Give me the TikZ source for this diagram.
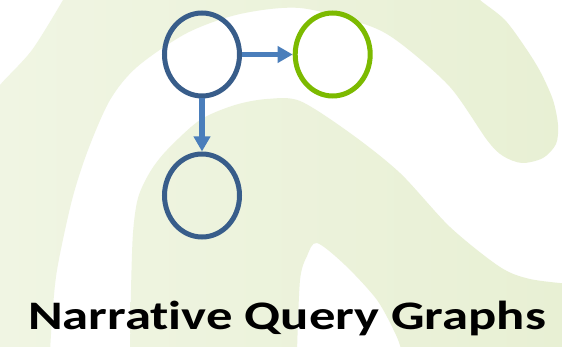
\documentclass[tikz,border=0pt]{standalone}
\usepackage{fontspec}
\setmainfont[Ligatures=NoCommon]{Carlito}
\usetikzlibrary{shapes.geometric,arrows.meta}
\definecolor{nodeblue}{HTML}{385D8A}
\definecolor{arrowblue}{HTML}{4A7EBB}
\definecolor{nodegreen}{HTML}{7CBA00}
\definecolor{bgA}{HTML}{F0F5E3}
\definecolor{bgB}{HTML}{E8F0D4}
\begin{document}
\begin{tikzpicture}[x=1pt,y=-1pt,
  vert/.style={ellipse, draw, line width=5pt, minimum width=75pt, minimum height=83pt, inner sep=0pt},
  conn/.style={draw=arrowblue, line width=5.5pt, -{Triangle[length=15pt,width=16pt]}},
  title/.style={font=\fontsize{40.5}{44}\selectfont\bfseries, inner sep=0pt, anchor=base west, xscale=1.30}]
\clip (0,0) rectangle (562,347);
\fill[white] (0,0) rectangle (562,347);
% background swoosh, band A
\begin{scope}
  \clip (0,352) -- plot[smooth] coordinates {(50,352) (52,320) (57,270) (72,200) (88,150) (110,100) (137,67) (187,33) (240,14) (300,8) (367,25) (400,43) (450,87) (487,140) (503,156) (522,163) (543,158) (556,144) (558,125) (553,100) (541,73) (527,50) (505,20) (480,0) (470,-12)} -- (63,-12) -- plot[smooth] coordinates {(63,0) (32,50) (0,85) (-8,100)} -- (-8,352) -- cycle;
  \shade[left color=bgA, right color=bgB] (0,0) rectangle (562,347);
\end{scope}
% background swoosh, band B
\begin{scope}
  \clip (130,352) -- plot[smooth] coordinates {(130,352) (131,290) (133,233) (138,198) (150,172) (167,150) (200,120) (235,105) (267,99) (300,101) (350,133) (400,173) (450,227) (500,267) (530,279) (570,284)} -- (570,352) -- (402,352) -- plot[smooth] coordinates {(402,352) (396,335) (377,300) (345,265) (317,243) (307,256) (300,280) (297,352)} -- cycle;
  \shade[left color=bgA, right color=bgB] (0,0) rectangle (562,347);
\end{scope}
% graph
\node[vert, draw=nodeblue] (a) at (202,54.5) {};
\node[vert, draw=nodegreen] (b) at (332.7,54.5) {};
\node[vert, draw=nodeblue] (c) at (202,195.5) {};
\draw[conn] (a.east) -- (b.west);
\draw[conn] (a.south) -- (c.north);
\node[title] (t) at (28,329.3) {Narrative Query Graphs};
\end{tikzpicture}
\end{document}
